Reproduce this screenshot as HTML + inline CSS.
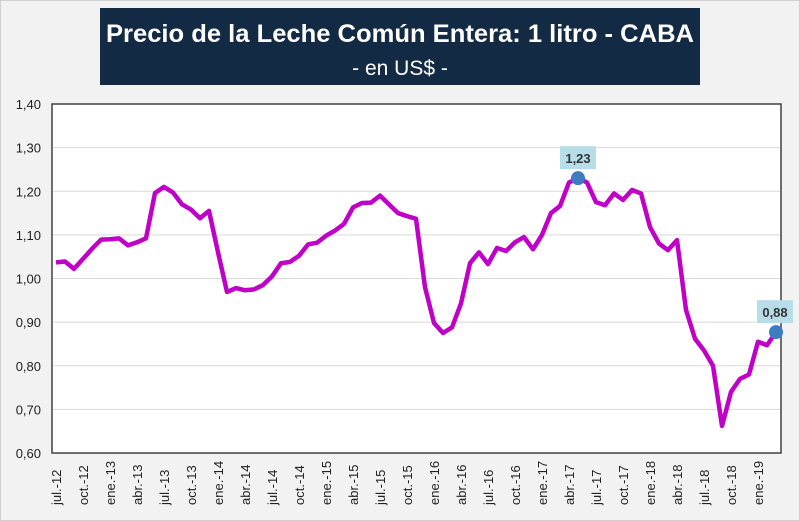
<!DOCTYPE html>
<html><head><meta charset="utf-8">
<style>
html,body{margin:0;padding:0;background:#f2f2f2;}
svg{display:block;font-family:"Liberation Sans",sans-serif;}
</style></head>
<body>
<svg id="chart" width="800" height="521" viewBox="0 0 800 521" xmlns="http://www.w3.org/2000/svg">
<rect x="0.5" y="0.5" width="799" height="520" fill="#f2f2f2" stroke="#d0d0d0"/>
<rect x="100" y="8" width="600" height="77" fill="#132a45"/>
<text x="400" y="42" text-anchor="middle" fill="#fff" font-size="25" font-weight="bold" textLength="588" lengthAdjust="spacingAndGlyphs">Precio de la Leche Común Entera: 1 litro - CABA</text>
<text x="400" y="75" text-anchor="middle" fill="#fff" font-size="21">- en US$ -</text>
<rect x="52" y="104" width="729" height="349" fill="#fff" stroke="#404040" stroke-width="1.5"/>
<g id="grid"></g>
<g id="yticks"></g>
<g id="xticks"></g>
<g id="series"></g>
<g id="labels"></g>
</svg>
<script>
const yTicks = [0.6,0.7,0.8,0.9,1.0,1.1,1.2,1.3,1.4];
const yTickLabels = ["0,60","0,70","0,80","0,90","1,00","1,10","1,20","1,30","1,40"];
const months = ["ene","feb","mar","abr","may","jun","jul","ago","sep","oct","nov","dic"];
const values = [
1.037,1.039,1.022,1.045,1.068,1.089,
1.090,1.092,1.076,1.083,1.092,1.196,1.21,1.197,1.17,1.158,1.138,1.155,
1.06,0.969,0.978,0.973,0.975,0.985,1.005,1.035,1.038,1.052,1.078,1.082,
1.098,1.11,1.125,1.163,1.173,1.174,1.19,1.17,1.15,1.143,1.137,0.98,
0.898,0.875,0.888,0.943,1.035,1.06,1.033,1.07,1.063,1.083,1.095,1.067,
1.10,1.15,1.166,1.22,1.23,1.22,1.175,1.168,1.195,1.18,1.203,1.195,
1.118,1.08,1.065,1.088,0.928,0.862,0.835,0.80,0.662,0.74,0.77,0.78,
0.855,0.847,0.877];
const categories = values.map((v,i)=>{const m=(6+i)%12;const y=12+Math.floor((6+i)/12);return months[m]+".-"+y;});
const highlightIdx = [58, values.length-1];
const highlightText = ["1,23","0,88"];

const NS="http://www.w3.org/2000/svg";
const x0=56, x1=776, yTop=104, yBot=453, vMin=0.6, vMax=1.4;
const xs=i=>x0+(x1-x0)*i/(values.length-1);
const ys=v=>yBot-(v-vMin)/(vMax-vMin)*(yBot-yTop);
function mk(tag,attrs,parent){const e=document.createElementNS(NS,tag);for(const k in attrs)e.setAttribute(k,attrs[k]);parent.appendChild(e);return e;}
const grid=document.getElementById('grid'),yt=document.getElementById('yticks'),xt=document.getElementById('xticks'),ser=document.getElementById('series'),lab=document.getElementById('labels');
yTicks.forEach((t,i)=>{
  if(t>vMin&&t<vMax){const g=mk('line',{x1:53,x2:780,y1:ys(t),y2:ys(t),stroke:'#d9d9d9','stroke-width':1},grid);
  
  }
  const tx=mk('text',{x:41,y:ys(t)+5,'text-anchor':'end','font-size':13,fill:'#222'},yt);
  tx.textContent=yTickLabels[i];
  
  
});
categories.forEach((c,i)=>{
  if(i%3!==0)return;
  const x=xs(i);
  const tx=mk('text',{x:0,y:0,transform:`translate(${x+5},${505}) rotate(-90)`,'font-size':13,fill:'#222'},xt);
  tx.textContent=c;
  
  
});
const p=mk('polyline',{points:values.map((v,i)=>xs(i)+','+ys(v)).join(' '),fill:'none',stroke:'#c000c8','stroke-width':4.5,'stroke-linejoin':'round'},ser);


highlightIdx.forEach((idx,k)=>{
  const cx=xs(idx),cy=ys(values[idx]);
  const c=mk('circle',{cx:cx,cy:cy,r:7,fill:'#3d7cc0'},ser);
  
  
  const bx=Math.min(cx-18,757);
  const r=mk('rect',{x:bx,y:cy-32,width:36,height:23,fill:'#b7dde8'},lab);
  
  
  const t=mk('text',{x:bx+18,y:cy-15,'text-anchor':'middle','font-size':13,'font-weight':'bold',fill:'#333'},lab);
  t.textContent=highlightText[k];
  
  
});
</script>
</body></html>
